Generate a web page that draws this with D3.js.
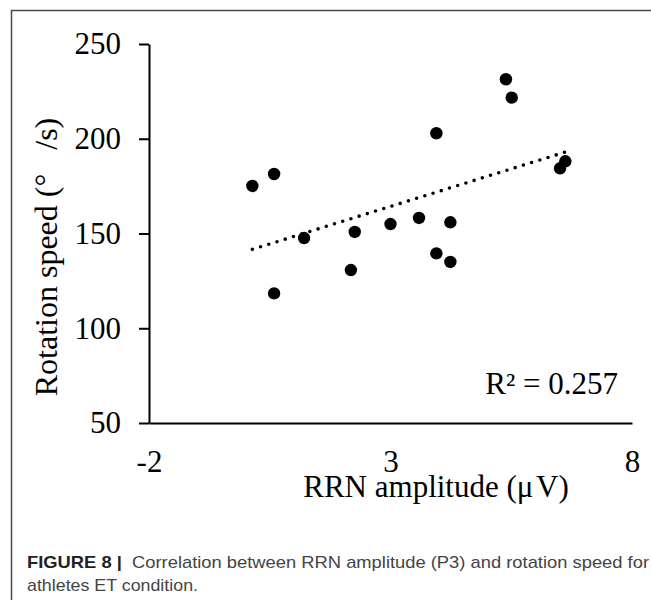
<!DOCTYPE html>
<html>
<head>
<meta charset="utf-8">
<script src="https://cdn.jsdelivr.net/npm/d3@7"></script>
<style>
  body { margin: 0; background: #fff; }
  svg { display: block; }
  .axis text { font-family: "Liberation Serif", "Times New Roman", serif; fill: #000; }
  .caption { font-family: "Liberation Sans Narrow", "Liberation Sans", Arial, sans-serif; }
</style>
</head>
<body>
<svg id="chart"></svg>
<script>
// Values
const rrnAmplitude = [0.14, 0.59, 1.21, 2.26, 2.18, 0.59, 3.0, 3.59, 3.95, 3.95, 4.24, 4.24, 5.39, 5.51, 6.51, 6.62];
const rotationSpeed = [175.1, 181.4, 147.6, 150.8, 130.7, 118.4, 155.0, 158.2, 202.9, 139.5, 155.9, 135.0, 231.4, 221.7, 184.4, 188.1];
const xTicks = [-2, 3, 8];
const yTicks = [50, 100, 150, 200, 250];
const rSquaredLabel = 'R\u00B2 = 0.257';
const xTitle = 'RRN amplitude (\u03BC\u200AV)';
const yTitle = 'Rotation speed (\u00B0\u2002 /s)';
const captionBold = 'FIGURE 8 | ';
const captionLine1 = ' Correlation between RRN amplitude (P3) and rotation speed for';
const captionLine2 = 'athletes ET condition.';

class ScatterChart {

  constructor(_config, _data) {
    this.config = {
      parentElement: _config.parentElement,
      containerWidth: 651,
      containerHeight: 600,
      plot: { left: 149, right: 632, top: 44, bottom: 423 }
    }
    this.data = _data;
    this.initVis();
  }

  initVis() {
    let vis = this;
    let p = vis.config.plot;

    vis.xScale = d3.scaleLinear()
      .domain([xTicks[0], xTicks[xTicks.length - 1]])
      .range([p.left, p.right]);

    vis.yScale = d3.scaleLinear()
      .domain([yTicks[0], yTicks[yTicks.length - 1]])
      .range([p.bottom, p.top]);

    // plain hyphen for negatives, like the original
    vis.xAxis = d3.axisBottom(vis.xScale)
      .tickValues(xTicks)
      .tickFormat(d => String(d))
      .tickSize(0)
      .tickSizeOuter(0);

    vis.yAxis = d3.axisLeft(vis.yScale)
      .tickValues(yTicks)
      .tickSize(10)
      .tickPadding(18)
      .tickSizeOuter(0);

    vis.svg = d3.select(vis.config.parentElement)
      .attr('width', vis.config.containerWidth)
      .attr('height', vis.config.containerHeight);

    vis.svg.append('rect')
      .attr('width', vis.config.containerWidth)
      .attr('height', vis.config.containerHeight)
      .attr('fill', '#fff');

    // figure frame, runs off the right and bottom edges
    vis.svg.append('rect')
      .attr('x', 11.5)
      .attr('y', 10.5)
      .attr('width', 700)
      .attr('height', 700)
      .attr('fill', 'none')
      .attr('stroke', '#4a4a4a')
      .attr('stroke-width', 1.5);

    vis.chart = vis.svg.append('g');
    vis.updateVis();
  }

  updateVis() {
    let vis = this;

    // least squares trend line over the data extent
    let mx = d3.mean(vis.data, d => d.x);
    let my = d3.mean(vis.data, d => d.y);
    let sxy = d3.sum(vis.data, d => (d.x - mx) * (d.y - my));
    let sxx = d3.sum(vis.data, d => (d.x - mx) * (d.x - mx));
    let slope = sxy / sxx;
    let icpt = my - slope * mx;
    vis.trend = d3.extent(vis.data, d => d.x).map(x => ({ x: x, y: icpt + slope * x }));

    vis.renderVis();
  }

  renderVis() {
    let vis = this;
    let p = vis.config.plot;

    // axes
    let yAxisG = vis.chart.append('g')
      .attr('class', 'axis y-axis')
      .attr('transform', `translate(${p.left},0)`)
      .call(vis.yAxis);
    yAxisG.selectAll('text').style('font-size', '31px');
    yAxisG.selectAll('line, path').attr('stroke', '#000').attr('stroke-width', 2);

    let xAxisG = vis.chart.append('g')
      .attr('class', 'axis x-axis')
      .attr('transform', `translate(0,${p.bottom})`)
      .call(vis.xAxis);
    xAxisG.selectAll('text')
      .style('font-size', '31px')
      .attr('dy', null)
      .attr('y', 49);
    xAxisG.select('.domain').attr('stroke', '#000').attr('stroke-width', 2);

    // trend line
    vis.chart.append('path')
      .datum(vis.trend)
      .attr('d', d3.line().x(d => vis.xScale(d.x)).y(d => vis.yScale(d.y)))
      .attr('fill', 'none')
      .attr('stroke', '#000')
      .attr('stroke-width', 3.6)
      .attr('stroke-linecap', 'round')
      .attr('stroke-dasharray', '0 8.6');

    // points
    vis.chart.selectAll('.point')
      .data(vis.data)
      .join('circle')
      .attr('class', 'point')
      .attr('cx', d => vis.xScale(d.x))
      .attr('cy', d => vis.yScale(d.y))
      .attr('r', 6.2)
      .attr('fill', '#000');

    // labels
    vis.svg.append('text')
      .attr('x', 618)
      .attr('y', 394)
      .attr('text-anchor', 'end')
      .style('font-family', '"Liberation Serif", serif')
      .style('font-size', '31px')
      .text(rSquaredLabel);

    vis.svg.append('text')
      .attr('x', 436)
      .attr('y', 497)
      .attr('text-anchor', 'middle')
      .style('font-family', '"Liberation Serif", serif')
      .style('font-size', '31px')
      .text(xTitle);

    vis.svg.append('text')
      .attr('transform', 'translate(57,257) rotate(-90)')
      .attr('text-anchor', 'middle')
      .style('font-family', '"Liberation Serif", serif')
      .style('font-size', '32px')
      .style('white-space', 'pre')
      .text(yTitle);

    // caption
    let cap = vis.svg.append('text')
      .attr('class', 'caption')
      .attr('x', 27)
      .attr('y', 568)
      .attr('textLength', 622)
      .attr('lengthAdjust', 'spacingAndGlyphs')
      .style('font-size', '17px')
      .style('white-space', 'pre')
      .attr('fill', '#444');
    cap.append('tspan').style('font-weight', 'bold').attr('fill', '#222').text(captionBold);
    cap.append('tspan').text(captionLine1);

    vis.svg.append('text')
      .attr('class', 'caption')
      .attr('x', 27)
      .attr('y', 591)
      .attr('textLength', 171)
      .attr('lengthAdjust', 'spacingAndGlyphs')
      .style('font-size', '17px')
      .attr('fill', '#444')
      .text(captionLine2);
  }
}

let points = rrnAmplitude.map((x, i) => ({ x: x, y: rotationSpeed[i] }));
let scatter = new ScatterChart({ parentElement: '#chart' }, points);
</script>
</body>
</html>
